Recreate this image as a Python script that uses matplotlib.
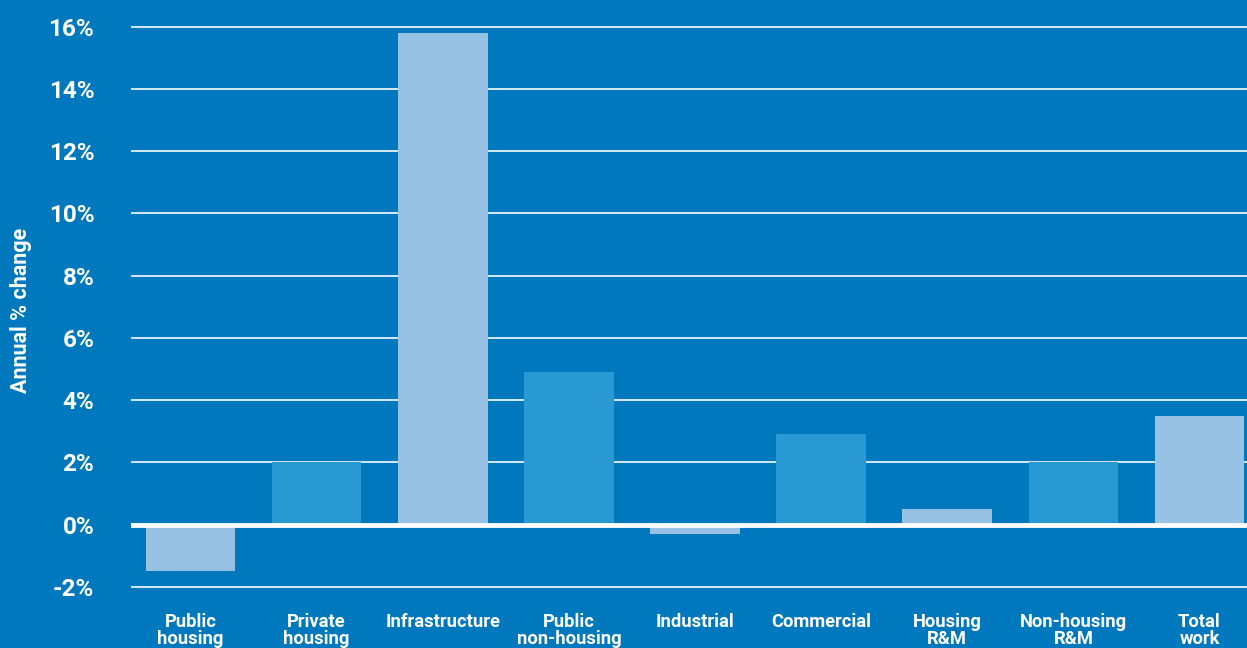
import matplotlib
matplotlib.use("Agg")
import matplotlib.pyplot as plt

categories = ["Public\nhousing", "Private\nhousing", "Infrastructure", "Public\nnon-housing",
              "Industrial", "Commercial", "Housing\nR&M", "Non-housing\nR&M", "Total\nwork"]
values = [-1.5, 2.0, 15.8, 4.9, -0.3, 2.9, 0.5, 2.0, 3.5]
yticks = [-2, 0, 2, 4, 6, 8, 10, 12, 14, 16]
ytick_labels = ["-2%", "0%", "2%", "4%", "6%", "8%", "10%", "12%", "14%", "16%"]

BG = "#0078BE"
LIGHT = "#97C2E4"
MID = "#2899D3"
bar_colors = [LIGHT if i % 2 == 0 else MID for i in range(len(values))]

plt.rcParams["font.family"] = ["Roboto", "DejaVu Sans"]

W, H = 1247, 648
fig = plt.figure(figsize=(W / 100, H / 100), dpi=100, facecolor=BG)
# axes box in pixels: left 131, right 1247, y from 11 to 602
ax = fig.add_axes([131 / W, 1 - 602.3 / H, (W - 131) / W, 591 / H])
ax.set_facecolor(BG)

x = list(range(len(values)))
ax.bar(x, values, width=0.71, color=bar_colors, zorder=3)

ax.set_xlim(-0.472, 8.377)
ax.set_ylim(-2.5, 16.5)

for t in yticks:
    if t == 0:
        continue
    ax.axhline(t, color="white", lw=1.3, alpha=0.9, zorder=1)
ax.axhline(0, color="white", lw=3.5, zorder=4)

ax.set_yticks(yticks)
ax.set_yticklabels(ytick_labels, fontsize=17.5, fontweight="bold", color="white")
ax.tick_params(axis="y", length=0, pad=26.5)

ax.set_xticks(x)
ax.set_xticklabels(categories, fontsize=13.2, fontweight="bold", color="white",
                   linespacing=0.88, va="top")
ax.tick_params(axis="x", length=0, pad=8)

for s in ax.spines.values():
    s.set_visible(False)

fig.text(21 / W, 1 - 310 / H, "Annual % change", rotation=90, color="white",
         fontsize=15.5, fontweight="bold", ha="center", va="center")

fig.savefig("out.png", dpi=100, facecolor=BG)
